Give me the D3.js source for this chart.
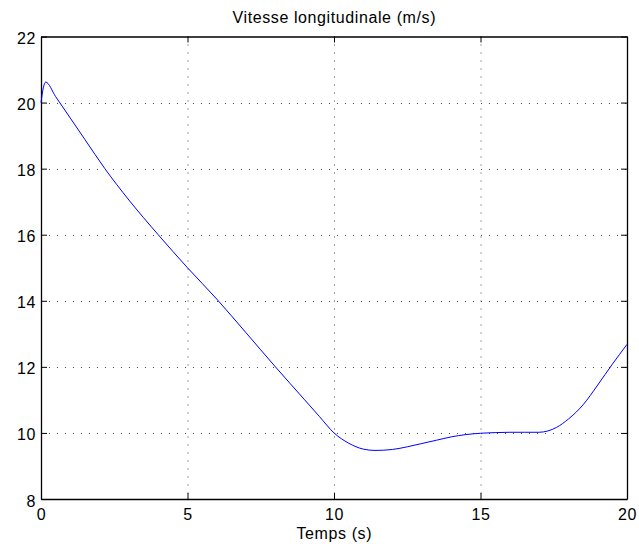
<!DOCTYPE html>
<html>
<head>
<meta charset="utf-8">
<script src="https://cdn.jsdelivr.net/npm/d3@7"></script>
<style>
  body { margin: 0; background: #fff; }
  svg { display: block; }
  text { font-family: "Liberation Sans", Arial, Helvetica, sans-serif; fill: #000; }
</style>
</head>
<body>
<svg id="chart" width="639" height="551"></svg>
<script>
const titleText = "Vitesse longitudinale (m/s)";
const xLabelText = "Temps (s)";
const xTicks = [0, 5, 10, 15, 20];
const yTicks = [8, 10, 12, 14, 16, 18, 20, 22];
const timeValues = [0, 0.08, 0.16, 0.5, 1, 1.5, 2.18, 3, 4, 5, 6, 7, 8, 9, 9.5, 10,
  10.5, 11, 11.4, 12, 12.5, 13, 13.5, 14, 14.5, 15, 15.5, 16, 16.5, 17, 17.3, 17.6,
  18, 18.5, 19, 19.5, 20];
const speedValues = [20.0, 20.45, 20.62, 20.18, 19.53, 18.88, 18.0, 17.05, 16.0, 15.0, 14.05, 13.03, 12.0, 11.0, 10.5, 10.0,
  9.69, 9.51, 9.47, 9.5, 9.58, 9.68, 9.78, 9.88, 9.95, 9.99, 10.01, 10.02, 10.02, 10.02, 10.06, 10.17,
  10.42, 10.85, 11.45, 12.08, 12.68];

const svg = d3.select("#chart");
const pLeft = 41, pRight = 627, pTop = 36.5, pBottom = 499;
const x = d3.scaleLinear().domain([0, 20]).range([pLeft, pRight]);
const y = d3.scaleLinear().domain([8, 22]).range([pBottom, pTop]);
const LS = "0.6px";
const FS = 16;

// Grid
const grid = svg.append("g");
grid.selectAll("line.vg").data(xTicks.slice(1, -1)).enter().append("line")
  .attr("x1", d => x(d) + 0.5).attr("x2", d => x(d) + 0.5)
  .attr("y1", pTop).attr("y2", pBottom)
  .attr("stroke", "#444").attr("stroke-width", 1).attr("stroke-dasharray", "1,7");
grid.selectAll("line.hg").data(yTicks.slice(1, -1)).enter().append("line")
  .attr("y1", d => Math.round(y(d)) + 0.5).attr("y2", d => Math.round(y(d)) + 0.5)
  .attr("x1", pLeft).attr("x2", pRight)
  .attr("stroke", "#444").attr("stroke-width", 1).attr("stroke-dasharray", "1,7");

// Axes with inward ticks
const tickLen = 6;
const xAxisB = d3.axisBottom(x).tickValues(xTicks).tickSizeInner(-tickLen).tickSizeOuter(0).tickPadding(10).tickFormat(d3.format("d"));
const xAxisT = d3.axisTop(x).tickValues(xTicks).tickSizeInner(-tickLen).tickSizeOuter(0).tickFormat("");
const yAxisL = d3.axisLeft(y).tickValues(yTicks).tickSizeInner(-tickLen).tickSizeOuter(0).tickPadding(5).tickFormat(d3.format("d"));
const yAxisR = d3.axisRight(y).tickValues(yTicks).tickSizeInner(-tickLen).tickSizeOuter(0).tickFormat("");

function style(g) {
  g.selectAll("path.domain").attr("stroke", "#000").attr("stroke-width", 1.3);
  g.selectAll(".tick line").attr("stroke", "#000");
  g.selectAll(".tick text").attr("font-size", FS).attr("letter-spacing", LS)
    .attr("font-family", "Liberation Sans, Arial, sans-serif").attr("fill", "#000");
}
svg.append("g").attr("transform", `translate(0,${pBottom})`).call(xAxisB).call(style);
svg.append("g").attr("transform", `translate(0,${pTop})`).call(xAxisT).call(style);
svg.append("g").attr("transform", `translate(${pLeft},0)`).call(yAxisL).call(style)
  .selectAll(".tick text").attr("dy", "0.44em");
svg.append("g").attr("transform", `translate(${pRight},0)`).call(yAxisR).call(style);

// Line
const data = timeValues.map((t, i) => ({ t, v: speedValues[i] }));
const line = d3.line().x(d => x(d.t)).y(d => y(d.v)).curve(d3.curveMonotoneX);
svg.append("path").datum(data).attr("d", line)
  .attr("fill", "none").attr("stroke", "#0000ff").attr("stroke-width", 1);

// Title and label
svg.append("text").attr("x", (pLeft + pRight) / 2 + 0.3).attr("y", 22.5)
  .attr("text-anchor", "middle").attr("font-size", FS).attr("letter-spacing", LS).text(titleText);
svg.append("text").attr("x", (pLeft + pRight) / 2 + 0.3).attr("y", 539)
  .attr("text-anchor", "middle").attr("font-size", FS).attr("letter-spacing", LS).text(xLabelText);
</script>
</body>
</html>
